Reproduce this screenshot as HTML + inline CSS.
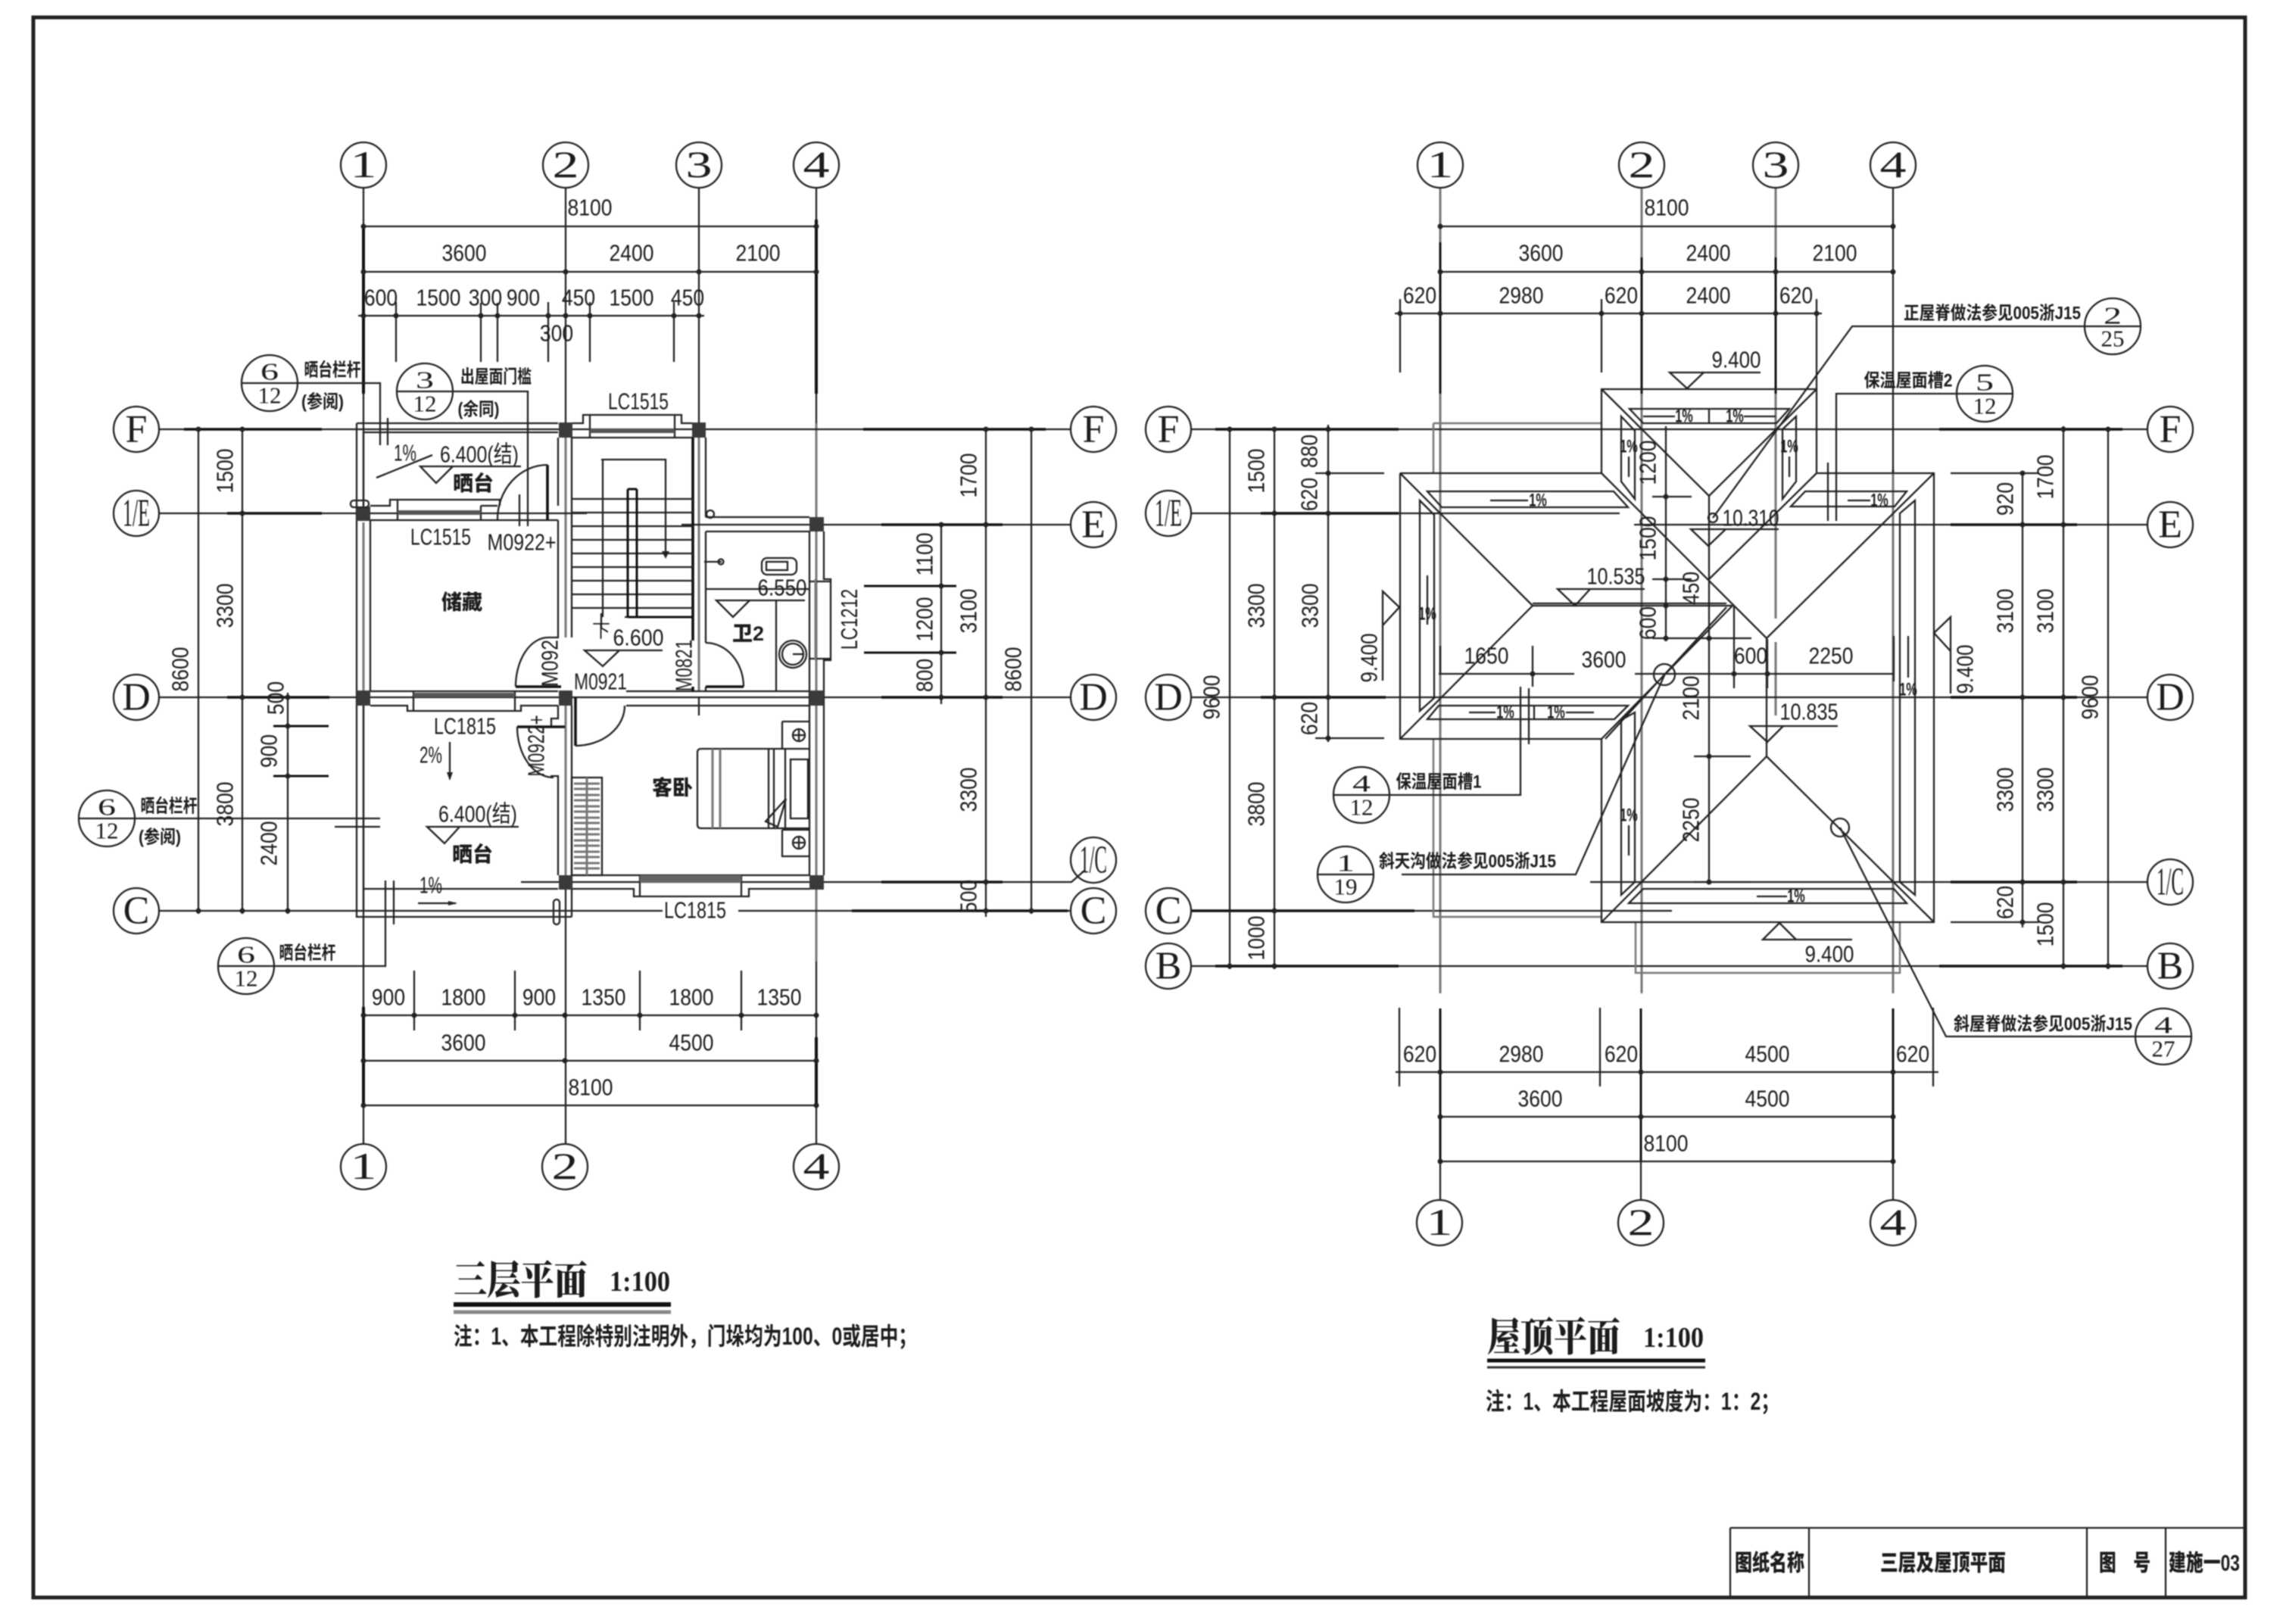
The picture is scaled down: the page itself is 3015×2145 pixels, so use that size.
<!DOCTYPE html>
<html lang="zh"><head><meta charset="utf-8"><title>三层及屋顶平面</title>
<style>
html,body{margin:0;padding:0;background:#fff}
svg{display:block;filter:blur(.75px)}
text{fill:#1c1c1c;text-anchor:middle;dominant-baseline:central;font-family:"Liberation Sans","Noto Sans CJK SC",sans-serif;font-size:31px}
.d{transform-box:fill-box;transform-origin:center;transform:scaleX(.855)}
.s{font-family:"Liberation Serif",serif;font-size:52px}
.n{font-family:"Liberation Serif",serif;font-size:50px;transform-box:fill-box;transform-origin:center;transform:scaleX(1.4)}
.t{font-family:"Liberation Serif",serif;font-size:32px;transform-box:fill-box;transform-origin:center;transform:scaleX(1.5)}
.b{font-family:"Liberation Serif",serif;font-size:31px}
.c{font-size:24px;font-weight:700}
.h{font-size:27px;font-weight:900}
.g{font-size:30px;font-weight:900}
.p{font-size:24px;font-weight:700;transform-box:fill-box;transform-origin:center;transform:scaleX(.68)}
.f{font-family:"Noto Serif CJK SC",serif;font-weight:900;font-size:44px;text-anchor:start}
.o{font-size:32px;font-weight:700;text-anchor:start}
.l{fill:none;stroke:#222;stroke-width:2.3}
.k{fill:none;stroke:#111;stroke-width:4}
.y{fill:none;stroke:#777;stroke-width:3}
.w{fill:none;stroke:#555;stroke-width:6}
.z{fill:none;stroke:#222;stroke-width:7;stroke-linecap:round}
circle,ellipse{fill:none;stroke:#222;stroke-width:2.3}
</style></head><body>
<svg xmlns="http://www.w3.org/2000/svg" width="3015" height="2145" viewBox="0 0 3015 2145">
<rect width="3015" height="2145" fill="#fff"/>
<rect x="44" y="23" width="2921" height="2087" fill="none" stroke="#222" stroke-width="5"/>
<path class="l" d="M2285 2018H2965M2285 2018V2110M2389 2018V2110M2756 2018V2110M2860 2018V2110"/>

<!-- LEFT PLAN axes -->
<path class="l" d="M480 248V671M480 932V1511M747 248V559M747 1174V1511M923 248V559M923 921V945M1078 248V559M1078 1175V1511"/>
<path class="y" d="M1078 559V685M1078 702V1156M480 690V913M747 578V842M747 932V1156M923 578V913M1078 1175V1270"/>
<path class="k" d="M480 300V520M1078 290V520M480 1330V1460M1078 1370V1460"/>
<path class="l" d="M210 567H1414M210 678H775M900 693H1414M210 921H1414M210 1203H875M975 1203H1414M688 1165H1415L1432 1150"/>
<path class="k" d="M243 567H425M300 678H425M300 921H435M1140 567H1381M1164 693H1324M1164 921H1324M1164 1165H1324M1125 1203H1410" style="stroke-width:3.4"/>
<!-- left dims -->
<path class="l" d="M480 299H1078M480 359H1078M473 417H930M523 399V478M635 400V478M657 400V478M724 399V478M779 399V478M890 399V478M262 565V1207M320 565V1207M380 915V1207M1302 565V1211M1362 565V1207M1243 690V930M480 1341H1078M480 1401H1078M480 1460H1078M547 1282V1361M680 1282V1361M845 1282V1361M979 1282V1361"/>
<path class="k" d="M361 959H434M361 1025H434M1141 774H1263M1141 862H1263" style="stroke-width:3"/>
<path class="z" d="M480 299h0M747 359h0M480 359h0M923 359h0M1078 299h0M1078 359h0M480 417h0M523 417h0M635 417h0M657 417h0M724 417h0M747 417h0M779 417h0M890 417h0M923 417h0M262 567h0M320 567h0M320 678h0M320 921h0M380 921h0M380 959h0M380 1025h0M262 1203h0M320 1203h0M380 1203h0M1302 567h0M1362 567h0M1243 693h0M1302 693h0M1243 774h0M1243 862h0M1243 921h0M1302 921h0M1302 1165h0M1302 1203h0M1362 1203h0M480 1341h0M547 1341h0M680 1341h0M746 1341h0M845 1341h0M979 1341h0M1078 1341h0M480 1401h0M746 1401h0M1078 1401h0M480 1460h0M1078 1460h0"/>
<!-- walls -->
<path class="l" d="M471 559H737M480 571H737M471 559V1211H755M480 571V668M489 687V913M489 668H515V660H660V668M525 660V687M635 668V687M635 668H657M489 687H737M737 578V668M737 687V842H724M755 578V842M489 913H737M489 932H538V939H688V932H737M546 913V939M680 913V939M827 913H1069M827 932H1069M737 932V949H728V960M727 1025H737V1156M755 932V1211M480 932V1203M480 1174H737M756 1156H1069M756 1174H837V1184H989V1174H1069M845 1156V1184M979 1156V1184M1069 702V1156M1088 702V765H1097V872H1088V1156M1069 768H1097M1069 870H1097M932 683H1069M932 702H1069M932 778H1069M1025 792V913M932 578V683M932 702V849M932 907V913M756 578H914M756 559H770V548H900V559H914M779 548V578M891 548V578"/>
<path class="k" d="M915 578V846M915 907V913M723 614V686M681 907H741M760 921V985M683 960H746M932 907H982" style="stroke-width:3.6"/>
<path class="l" d="M723 614A66 72 0 0 0 657 686M724 842A43 65 0 0 0 681 907M760 985A65 53 0 0 0 825 932M683 960A48 67 0 0 0 731 1027M932 849A50 58 0 0 1 982 907"/>
<path class="w" d="M525 677H635M546 918H680M779 569H891"/>
<path class="w" d="M845 1161H979" style="stroke-width:10;stroke:#666"/>
<path class="y" d="M1077 765V872"/>
<g fill="#3a3a3a"><rect x="471" y="669" width="18" height="19"/><rect x="738" y="558" width="18" height="20"/><rect x="914" y="558" width="18" height="20"/><rect x="1069" y="683" width="19" height="19"/><rect x="471" y="912" width="18" height="20"/><rect x="738" y="912" width="18" height="20"/><rect x="1069" y="912" width="19" height="20"/><rect x="738" y="1156" width="18" height="19"/><rect x="1069" y="1156" width="19" height="19"/></g>
<!-- stairs -->
<path class="l" d="M755 659H915M755 677H915M755 695H915M755 713H915M755 731H915M755 749H915M755 767H915M755 785H915M755 803H915M796 607V815M794 607H879V731M825 815H915M794 810V830"/>
<path class="k" d="M829 646V815M841 646V815M829 646H841M829 815H915" style="stroke-width:3"/>
<path d="M874 728h10l-5 10z" fill="#222"/>
<path class="l" d="M930 742H953"/>
<circle cx="952" cy="742" r="3.5"/><circle cx="938" cy="679" r="5"/>
<rect x="1006" y="737" width="46" height="22" rx="7" class="l"/><rect x="1012" y="742" width="28" height="11" class="l"/>
<circle cx="1047" cy="864" r="18"/><circle cx="1047" cy="864" r="14"/><path class="l" d="M1047 864H1062"/>
<!-- wardrobe -->
<rect x="755" y="1027" width="40" height="129" class="l"/>
<path class="y" d="M775 1027V1156M758 1035H792M758 1042H792M758 1050H792M758 1057H792M758 1065H792M758 1072H792M758 1080H792M758 1087H792M758 1095H792M758 1102H792M758 1110H792M758 1117H792M758 1125H792M758 1132H792M758 1140H792M758 1147H792"/>
<!-- bed -->
<path class="l" d="M1068 989H926Q921 989 921 994V1089Q921 1094 926 1094H1068M1015 989V1094M1022 989V1094M1037 989V1094M1044 1003H1067V1081H1044ZM1033 953H1068M1033 953V988M1033 1096H1068M1033 1096V1131H1068M1011 1085L1038 1055L1027 1092Z"/>
<path class="y" d="M941 989V1094M951 989V1094"/>
<circle cx="1055" cy="971" r="8"/><circle cx="1055" cy="1113" r="8"/><path class="l" d="M1055 962V980M1046 971H1064M1055 1104V1122M1046 1113H1064"/>
<!-- left misc -->
<path class="l" d="M394 506H502V588M512 552V588M598 517H697V695M686 653V695M104 1081H502M442 1092H502M362 1276H509V1163M520 1163V1221M497 631L571 601M555 616H688M555 616H598L576 638ZM564 1092H685M564 1092H607L587 1114ZM594 980V1029M552 1193H602M772 859H875M772 859H818L796 880ZM946 793H1063M946 793H990L968 815Z"/>
<rect x="731" y="1188" width="8" height="33" rx="4" class="l"/><rect x="463" y="661" width="24" height="9" rx="4" class="l"/>
<path d="M590 1020h8l-4 11zM592 1190v6l12-3z" fill="#222"/>

<!-- RIGHT PLAN axes -->
<path class="y" d="M1902 248V1312M2168 248V1312M2345 248V817M2345 848V945M2500 620V1312"/>
<path class="l" d="M2500 248V625M1902 1332V1585M2167 1332V1585M2500 1332V1585"/>
<path class="k" d="M1902 320V520M2168 340V520M2345 340V520M1902 1332V1534M2167 1332V1534M2500 1332V1534" style="stroke-width:3"/>
<path class="l" d="M1573 567H2836M1573 678H2139M2158 693H2836M1573 921H2836M2100 1165H2836M1573 1203H2208M1573 1276H2836"/>
<path class="k" d="M1605 567H1847M1665 678H1847M1665 921H1830M1574 1203H1868M1605 1276H1847M2561 567H2803M2576 693H2743M2576 921H2743M2576 1165H2743M2561 1276H2803" style="stroke-width:3.4"/>
<path class="y" d="M1893 559H2115M1893 559V625M1893 976V1211H2115M2160 1218V1285H2509V1218" style="stroke-width:2.5"/>
<!-- right dims -->
<path class="l" d="M1902 299H2500M1902 359H2500M1842 414H2406M1849 395V492M2115 395V492M2399 395V514M1624 565V1280M1683 565V1280M1754 561V980M2671 623V1225M2725 563V1280M2784 565V1280M1737 625H1828M1737 975H1828M2576 625H2693M2576 1218H2693M1843 1416H2560M1902 1475H2500M1902 1534H2500M1848 1331V1435M2113 1331V1435M2553 1331V1435M1900 890H2079M2159 890H2501M1902 853V890M2024 853V907M2290 800V909M2334 844V909M2501 840V900M2200 563V847M2182 656H2234M2182 765H2234M2182 843H2313M2257 655V1165M2237 999H2312M2237 1165H2312"/>
<path class="z" d="M1902 299h0M2500 299h0M1902 359h0M2168 359h0M2345 359h0M2500 359h0M1849 414h0M1902 414h0M2115 414h0M2168 414h0M2345 414h0M2399 414h0M1624 567h0M1683 567h0M1754 567h0M1754 625h0M1683 678h0M1754 678h0M1683 921h0M1754 921h0M1754 975h0M1683 1203h0M1624 1276h0M1683 1276h0M2725 567h0M2784 567h0M2671 625h0M2671 693h0M2725 693h0M2671 921h0M2725 921h0M2671 1165h0M2725 1165h0M2671 1218h0M2725 1276h0M2784 1276h0M1902 1416h0M2167 1416h0M2500 1416h0M1902 1475h0M2167 1475h0M2500 1475h0M1902 1534h0M2500 1534h0M2024 890h0M2290 890h0M2334 890h0M2200 656h0M2200 765h0M2200 800h0M2200 843h0M2257 843h0M2257 999h0M2257 1165h0"/>
<!-- roof -->
<path class="l" d="M2115 625V514H2399V625M1849 625H2115M2399 625H2554V1218H2115V976H1849V625M1849 625L2024 800M1849 976L2024 800M2024 800H2288M2024 797H2280M2115 514L2257 655L2399 514M2115 625L2333 843L2554 625M2399 625L2257 765M2288 800L2115 976M2280 802L2120 976M2333 843V999M2333 999L2115 1218M2333 999L2554 1218"/>
<!-- gutters -->
<path class="l" d="M2152 540H2363L2346 559H2170ZM2257 540V559M2141 550L2159 569V659L2141 636ZM2372 550L2354 567V659L2372 636ZM1885 649H2131L2150 670H1904ZM2384 649H2518L2502 669H2365ZM1875 661L1894 680V922L1875 939ZM1900 932H2150L2132 950H1885ZM2026 932V950M2159 941L2141 951V1182L2159 1165ZM2170 1174H2501L2518 1193H2151ZM2529 661L2509 678V1165L2529 1182Z"/>
<path class="l" d="M2170 550H2212M2303 550H2345M2151 603V630M2363 603V630M1968 661H2018M2440 661H2470M1885 825V760M1940 941H1975M2068 941H2105M2151 1090V1130M2320 1184H2360M2520 895V840"/>
<!-- leaders / marks -->
<path class="l" d="M2262 684L2446 431H2753M2583 520H2425V688M2414 611V688M1836 1050H2008V907M2019 909V983M1851 1155H2081L2198 892M2430 1093L2570 1369H2819M2233 699H2349M2233 699H2279L2256 721ZM2057 778H2172M2057 778H2100L2080 800ZM2205 492H2325M2205 492H2250L2228 513ZM1826 781V899M1826 781V826L1848 802ZM2576 815V916M2576 815V860L2554 836ZM2328 1241H2446M2328 1241H2372L2350 1219ZM2311 959H2427M2311 959H2355L2334 980Z"/>
<circle cx="2262" cy="684" r="6"/><circle cx="2198" cy="891" r="14"/><circle cx="2430" cy="1093" r="12"/>

<!-- title underlines -->
<path d="M599 1723H886" stroke="#111" stroke-width="6"/><path d="M599 1733H886" stroke="#888" stroke-width="5"/>
<path d="M1964 1797H2252" stroke="#111" stroke-width="5"/><path d="M1964 1806H2252" stroke="#333" stroke-width="3"/>

<!-- Axis bubbles -->
<g>
<circle cx="480" cy="218" r="30"/><circle cx="747" cy="218" r="30"/><circle cx="923" cy="218" r="30"/><circle cx="1078" cy="218" r="30"/>
<circle cx="480" cy="1541" r="30"/><circle cx="746" cy="1541" r="30"/><circle cx="1078" cy="1541" r="30"/>
<circle cx="180" cy="567" r="30"/><circle cx="180" cy="678" r="30"/><circle cx="180" cy="921" r="30"/><circle cx="180" cy="1203" r="30"/>
<circle cx="1444" cy="567" r="30"/><circle cx="1444" cy="693" r="30"/><circle cx="1444" cy="921" r="30"/><circle cx="1444" cy="1136" r="30"/><circle cx="1444" cy="1203" r="30"/>
<circle cx="1902" cy="218" r="30"/><circle cx="2168" cy="218" r="30"/><circle cx="2345" cy="218" r="30"/><circle cx="2500" cy="218" r="30"/>
<circle cx="1901" cy="1615" r="30"/><circle cx="2167" cy="1615" r="30"/><circle cx="2500" cy="1615" r="30"/>
<circle cx="1543" cy="567" r="30"/><circle cx="1543" cy="678" r="30"/><circle cx="1543" cy="921" r="30"/><circle cx="1543" cy="1203" r="30"/><circle cx="1543" cy="1276" r="30"/>
<circle cx="2866" cy="567" r="30"/><circle cx="2866" cy="693" r="30"/><circle cx="2866" cy="921" r="30"/><circle cx="2866" cy="1165" r="30"/><circle cx="2866" cy="1276" r="30"/>
</g>
<g>
<text class="n" x="480" y="218">1</text><text class="n" x="747" y="218">2</text><text class="n" x="923" y="218">3</text><text class="n" x="1078" y="218">4</text>
<text class="n" x="480" y="1541">1</text><text class="n" x="746" y="1541">2</text><text class="n" x="1078" y="1541">4</text>
<text class="s" x="180" y="567">F</text><text class="s" x="180" y="678" textLength="36" lengthAdjust="spacingAndGlyphs">1/E</text><text class="s" x="180" y="921">D</text><text class="s" x="180" y="1203">C</text>
<text class="s" x="1444" y="567">F</text><text class="s" x="1444" y="693">E</text><text class="s" x="1444" y="921">D</text><text class="s" x="1444" y="1136" textLength="36" lengthAdjust="spacingAndGlyphs">1/C</text><text class="s" x="1444" y="1203">C</text>
<text class="n" x="1902" y="218">1</text><text class="n" x="2168" y="218">2</text><text class="n" x="2345" y="218">3</text><text class="n" x="2500" y="218">4</text>
<text class="n" x="1901" y="1615">1</text><text class="n" x="2167" y="1615">2</text><text class="n" x="2500" y="1615">4</text>
<text class="s" x="1543" y="567">F</text><text class="s" x="1543" y="678" textLength="36" lengthAdjust="spacingAndGlyphs">1/E</text><text class="s" x="1543" y="921">D</text><text class="s" x="1543" y="1203">C</text><text class="s" x="1543" y="1276">B</text>
<text class="s" x="2866" y="567">F</text><text class="s" x="2866" y="693">E</text><text class="s" x="2866" y="921">D</text><text class="s" x="2866" y="1165" textLength="36" lengthAdjust="spacingAndGlyphs">1/C</text><text class="s" x="2866" y="1276">B</text>
</g>

<!-- Index bubbles -->
<g>
<circle cx="356" cy="506" r="37"/><path class="l" d="M319 506H394"/><text class="t" x="356" y="491">6</text><text class="b" x="356" y="522">12</text>
<circle cx="561" cy="517" r="37"/><path class="l" d="M524 517H598"/><text class="t" x="561" y="502">3</text><text class="b" x="561" y="533">12</text>
<circle cx="141" cy="1081" r="37"/><text class="t" x="141" y="1066">6</text><text class="b" x="141" y="1097">12</text>
<circle cx="325" cy="1276" r="37"/><path class="l" d="M288 1276H362"/><text class="t" x="325" y="1261">6</text><text class="b" x="325" y="1292">12</text>
<circle cx="1798" cy="1050" r="37"/><path class="l" d="M1761 1050H1836"/><text class="t" x="1798" y="1035">4</text><text class="b" x="1798" y="1066">12</text>
<circle cx="1777" cy="1155" r="37"/><path class="l" d="M1740 1155H1814"/><text class="t" x="1777" y="1140">1</text><text class="b" x="1777" y="1171">19</text>
<circle cx="2621" cy="520" r="37"/><path class="l" d="M2584 520H2658"/><text class="t" x="2621" y="505">5</text><text class="b" x="2621" y="536">12</text>
<circle cx="2790" cy="431" r="37"/><path class="l" d="M2753 431H2827"/><text class="t" x="2790" y="417">2</text><text class="b" x="2790" y="447">25</text>
<circle cx="2857" cy="1369" r="37"/><path class="l" d="M2819 1369H2895"/><text class="t" x="2857" y="1354">4</text><text class="b" x="2857" y="1385">27</text>
</g>

<!-- Left plan dims text -->
<g>
<text class="d" x="779" y="275">8100</text><text class="d" x="613" y="335">3600</text><text class="d" x="834" y="335">2400</text><text class="d" x="1001" y="335">2100</text>
<text class="d" x="503" y="394">600</text><text class="d" x="579" y="394">1500</text><text class="d" x="641" y="394">300</text><text class="d" x="691" y="394">900</text><text class="d" x="764" y="394">450</text><text class="d" x="834" y="394">1500</text><text class="d" x="908" y="394">450</text><text class="d" x="735" y="441">300</text>
<text class="d" x="513" y="1318">900</text><text class="d" x="612" y="1318">1800</text><text class="d" x="712" y="1318">900</text><text class="d" x="797" y="1318">1350</text><text class="d" x="913" y="1318">1800</text><text class="d" x="1029" y="1318">1350</text>
<text class="d" x="612" y="1378">3600</text><text class="d" x="913" y="1378">4500</text><text class="d" x="780" y="1437">8100</text>
<text transform="translate(298 622) rotate(-90) scale(.855 1)">1500</text>
<text transform="translate(298 800) rotate(-90) scale(.855 1)">3300</text>
<text transform="translate(239 884) rotate(-90) scale(.855 1)">8600</text>
<text transform="translate(298 1062) rotate(-90) scale(.855 1)">3800</text>
<text transform="translate(365 922) rotate(-90) scale(.855 1)">500</text>
<text transform="translate(356 992) rotate(-90) scale(.855 1)">900</text>
<text transform="translate(356 1114) rotate(-90) scale(.855 1)">2400</text>
<text transform="translate(1280 628) rotate(-90) scale(.855 1)">1700</text>
<text transform="translate(1280 807) rotate(-90) scale(.855 1)">3100</text>
<text transform="translate(1280 1043) rotate(-90) scale(.855 1)">3300</text>
<text transform="translate(1280 1184) rotate(-90) scale(.855 1)">500</text>
<text transform="translate(1339 884) rotate(-90) scale(.855 1)">8600</text>
<text transform="translate(1222 732) rotate(-90) scale(.855 1)">1100</text>
<text transform="translate(1222 818) rotate(-90) scale(.855 1)">1200</text>
<text transform="translate(1222 892) rotate(-90) scale(.855 1)">800</text>
</g>
<!-- Left plan labels -->
<g>
<text x="843" y="530" textLength="80" lengthAdjust="spacingAndGlyphs">LC1515</text>
<text x="582" y="709" textLength="80" lengthAdjust="spacingAndGlyphs">LC1515</text>
<text x="689" y="716" textLength="91" lengthAdjust="spacingAndGlyphs">M0922+</text>
<text x="614" y="959" textLength="82" lengthAdjust="spacingAndGlyphs">LC1815</text>
<text x="918" y="1202" textLength="82" lengthAdjust="spacingAndGlyphs">LC1815</text>
<text x="793" y="900" textLength="70" lengthAdjust="spacingAndGlyphs">M0921</text>
<text transform="translate(726 876) rotate(-90) scale(.8 1)">M092</text>
<text transform="translate(708 985) rotate(-90) scale(.72 1)">M0922+</text>
<text transform="translate(903 879) rotate(-90) scale(.72 1)">M0821</text>
<text transform="translate(1121 818) rotate(-90) scale(.74 1)">LC1212</text>
<text x="535" y="598" textLength="30" lengthAdjust="spacingAndGlyphs">1%</text>
<text x="569" y="997" textLength="30" lengthAdjust="spacingAndGlyphs">2%</text>
<text x="569" y="1169" textLength="30" lengthAdjust="spacingAndGlyphs">1%</text>
<text x="633" y="600" textLength="104" lengthAdjust="spacingAndGlyphs">6.400(结)</text>
<text x="631" y="1075" textLength="104" lengthAdjust="spacingAndGlyphs">6.400(结)</text>
<text x="843" y="842" textLength="67" lengthAdjust="spacingAndGlyphs">6.600</text>
<text x="1033" y="776" textLength="65" lengthAdjust="spacingAndGlyphs">6.550</text>
<text x="794" y="834" style="font-size:24px">下</text>
<text class="h" x="625" y="639">晒台</text><text class="h" x="624" y="1129">晒台</text><text class="h" x="610" y="796">储藏</text><text class="h" x="888" y="1041">客卧</text><text class="h" x="988" y="837">卫2</text>
<text class="c" x="439" y="489" textLength="75" lengthAdjust="spacingAndGlyphs">晒台栏杆</text>
<text class="c" x="426" y="531" textLength="56" lengthAdjust="spacingAndGlyphs">(参阅)</text>
<text class="c" x="655" y="498" textLength="94" lengthAdjust="spacingAndGlyphs">出屋面门槛</text>
<text class="c" x="632" y="541" textLength="55" lengthAdjust="spacingAndGlyphs">(余同)</text>
<text class="c" x="223" y="1065" textLength="75" lengthAdjust="spacingAndGlyphs">晒台栏杆</text>
<text class="c" x="211" y="1106" textLength="56" lengthAdjust="spacingAndGlyphs">(参阅)</text>
<text class="c" x="406" y="1259" textLength="75" lengthAdjust="spacingAndGlyphs">晒台栏杆</text>
</g>

<!-- Right plan text -->
<g>
<text class="d" x="2201" y="275">8100</text><text class="d" x="2035" y="335">3600</text><text class="d" x="2256" y="335">2400</text><text class="d" x="2423" y="335">2100</text>
<text class="d" x="1875" y="391">620</text><text class="d" x="2009" y="391">2980</text><text class="d" x="2141" y="391">620</text><text class="d" x="2256" y="391">2400</text><text class="d" x="2372" y="391">620</text>
<text class="d" x="1875" y="1393">620</text><text class="d" x="2009" y="1393">2980</text><text class="d" x="2141" y="1393">620</text><text class="d" x="2334" y="1393">4500</text><text class="d" x="2526" y="1393">620</text>
<text class="d" x="2034" y="1452">3600</text><text class="d" x="2334" y="1452">4500</text><text class="d" x="2200" y="1511">8100</text>
<text class="d" x="1963" y="867">1650</text><text class="d" x="2118" y="872">3600</text><text class="d" x="2312" y="867">600</text><text class="d" x="2418" y="867">2250</text>
<text transform="translate(1660 622) rotate(-90) scale(.855 1)">1500</text>
<text transform="translate(1730 596) rotate(-90) scale(.855 1)">880</text>
<text transform="translate(1730 653) rotate(-90) scale(.855 1)">620</text>
<text transform="translate(1660 800) rotate(-90) scale(.855 1)">3300</text>
<text transform="translate(1731 800) rotate(-90) scale(.855 1)">3300</text>
<text transform="translate(1730 949) rotate(-90) scale(.855 1)">620</text>
<text transform="translate(1601 921) rotate(-90) scale(.855 1)">9600</text>
<text transform="translate(1660 1062) rotate(-90) scale(.855 1)">3800</text>
<text transform="translate(1660 1239) rotate(-90) scale(.855 1)">1000</text>
<text transform="translate(2702 630) rotate(-90) scale(.855 1)">1700</text>
<text transform="translate(2649 659) rotate(-90) scale(.855 1)">920</text>
<text transform="translate(2649 807) rotate(-90) scale(.855 1)">3100</text>
<text transform="translate(2702 807) rotate(-90) scale(.855 1)">3100</text>
<text transform="translate(2649 1043) rotate(-90) scale(.855 1)">3300</text>
<text transform="translate(2702 1043) rotate(-90) scale(.855 1)">3300</text>
<text transform="translate(2649 1192) rotate(-90) scale(.855 1)">620</text>
<text transform="translate(2702 1221) rotate(-90) scale(.855 1)">1500</text>
<text transform="translate(2761 921) rotate(-90) scale(.855 1)">9600</text>
<text transform="translate(2177 611) rotate(-90) scale(.855 1)">1200</text>
<text transform="translate(2177 711) rotate(-90) scale(.855 1)">1500</text>
<text transform="translate(2234 777) rotate(-90) scale(.855 1)">450</text>
<text transform="translate(2177 823) rotate(-90) scale(.855 1)">600</text>
<text transform="translate(2234 922) rotate(-90) scale(.855 1)">2100</text>
<text transform="translate(2234 1083) rotate(-90) scale(.855 1)">2250</text>
<text transform="translate(1809 869) rotate(-90) scale(.84 1)">9.400</text>
<text transform="translate(2596 884) rotate(-90) scale(.84 1)">9.400</text>
<text x="2293" y="475" textLength="65" lengthAdjust="spacingAndGlyphs">9.400</text>
<text x="2416" y="1260" textLength="65" lengthAdjust="spacingAndGlyphs">9.400</text>
<text x="2312" y="684" textLength="75" lengthAdjust="spacingAndGlyphs">10.310</text>
<text x="2134" y="761" textLength="77" lengthAdjust="spacingAndGlyphs">10.535</text>
<text x="2389" y="940" textLength="77" lengthAdjust="spacingAndGlyphs">10.835</text>
<text class="p" x="2224" y="550">1%</text><text class="p" x="2291" y="550">1%</text><text class="p" x="2151" y="590">1%</text><text class="p" x="2363" y="590">1%</text><text class="p" x="2031" y="661">1%</text><text class="p" x="2482" y="661">1%</text><text class="p" x="1885" y="811">1%</text><text class="p" x="1988" y="941">1%</text><text class="p" x="2055" y="941">1%</text><text class="p" x="2151" y="1077">1%</text><text class="p" x="2372" y="1184">1%</text><text class="p" x="2520" y="911">1%</text>
<text class="c" x="2631" y="414" textLength="234" lengthAdjust="spacingAndGlyphs">正屋脊做法参见005浙J15</text>
<text class="c" x="2520" y="503" textLength="117" lengthAdjust="spacingAndGlyphs">保温屋面槽2</text>
<text class="c" x="1900" y="1033" textLength="113" lengthAdjust="spacingAndGlyphs">保温屋面槽1</text>
<text class="c" x="1938" y="1138" textLength="234" lengthAdjust="spacingAndGlyphs">斜天沟做法参见005浙J15</text>
<text class="c" x="2698" y="1353" textLength="236" lengthAdjust="spacingAndGlyphs">斜屋脊做法参见005浙J15</text>
</g>

<!-- Titles -->
<text class="f" x="599" y="1687" textLength="177" lengthAdjust="spacingAndGlyphs" style="font-size:52px">三层平面</text>
<text x="845" y="1693" textLength="80" lengthAdjust="spacingAndGlyphs" style="font-size:38px;font-weight:700;font-family:'Liberation Serif',serif">1:100</text>
<text class="o" x="599" y="1765" textLength="612" lengthAdjust="spacingAndGlyphs">注：1、本工程除特别注明外，门垛均为100、0或居中；</text>
<text class="f" x="1964" y="1762" textLength="176" lengthAdjust="spacingAndGlyphs" style="font-size:52px">屋顶平面</text>
<text x="2210" y="1767" textLength="80" lengthAdjust="spacingAndGlyphs" style="font-size:38px;font-weight:700;font-family:'Liberation Serif',serif">1:100</text>
<text class="o" x="1962" y="1851" textLength="388" lengthAdjust="spacingAndGlyphs">注：1、本工程屋面坡度为：1：2；</text>
<!-- Title block -->
<text class="g" x="2337" y="2065" textLength="92" lengthAdjust="spacingAndGlyphs">图纸名称</text>
<text class="g" x="2566" y="2065" textLength="166" lengthAdjust="spacingAndGlyphs">三层及屋顶平面</text>
<text class="g" x="2806" y="2065" textLength="68" lengthAdjust="spacingAndGlyphs">图　号</text>
<text class="g" x="2911" y="2065" textLength="94" lengthAdjust="spacingAndGlyphs">建施一03</text>
</svg>
</body></html>
